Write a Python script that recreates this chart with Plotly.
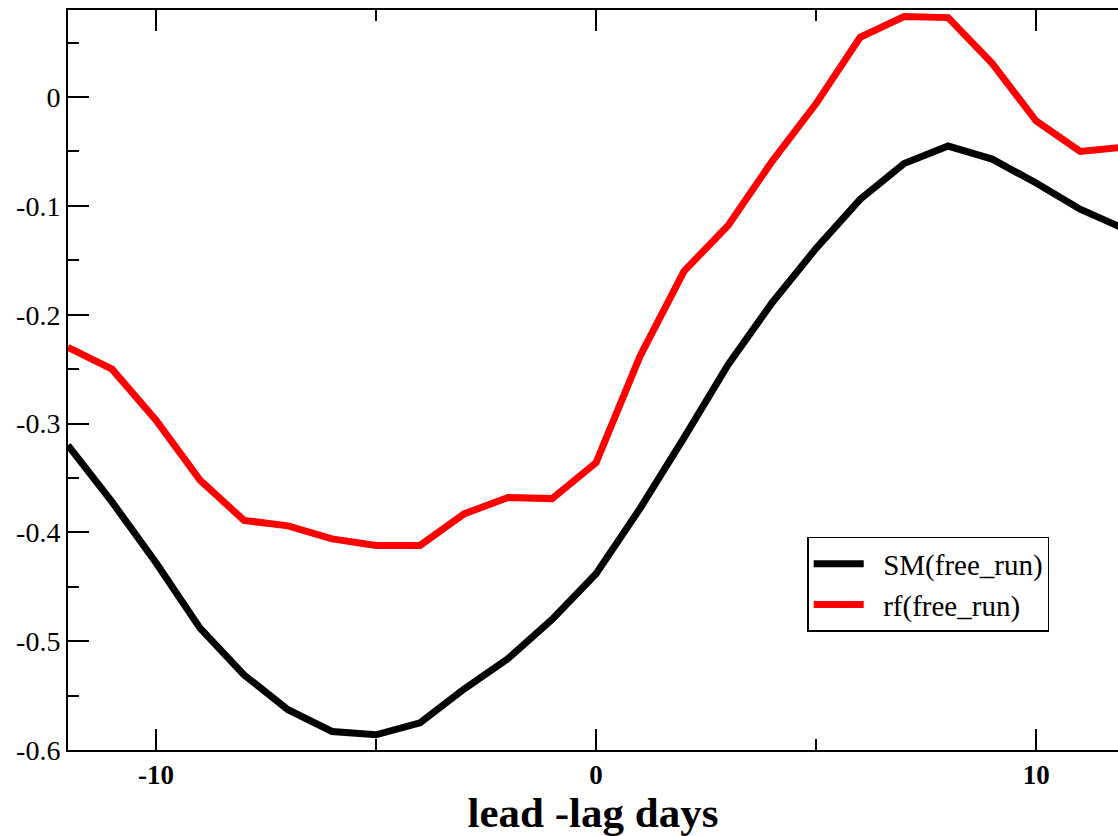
import plotly.graph_objects as go

lag_days = [-12, -11, -10, -9, -8, -7, -6, -5, -4, -3, -2, -1, 0, 1, 2, 3, 4, 5, 6, 7, 8, 9, 10, 11, 12]
sm_free_run = [-0.320, -0.372, -0.428, -0.488, -0.531, -0.563, -0.583, -0.586, -0.575, -0.544,
               -0.516, -0.480, -0.438, -0.378, -0.313, -0.246, -0.189, -0.139, -0.094, -0.061,
               -0.045, -0.057, -0.079, -0.103, -0.121]
rf_free_run = [-0.230, -0.250, -0.297, -0.352, -0.389, -0.394, -0.406, -0.412, -0.412, -0.383,
               -0.368, -0.369, -0.336, -0.238, -0.160, -0.118, -0.059, -0.006, 0.055, 0.074,
               0.073, 0.031, -0.022, -0.050, -0.046]
series_names = ["SM(free_run)", "rf(free_run)"]

x_ticks = [-10, 0, 10]
y_ticks = [-0.6, -0.5, -0.4, -0.3, -0.2, -0.1, 0]
y_tick_labels = ["-0.6", "-0.5", "-0.4", "-0.3", "-0.2", "-0.1", "0"]

serif = "'Liberation Serif', 'Times New Roman', Times, serif"
pad = "\u00a0\u00a0"

fig = go.Figure()
fig.add_trace(go.Scatter(x=lag_days, y=sm_free_run, mode="lines", name=pad + series_names[0],
                         line=dict(color="black", width=7)))
fig.add_trace(go.Scatter(x=lag_days, y=rf_free_run, mode="lines", name=pad + series_names[1],
                         line=dict(color="red", width=7)))

fig.update_layout(
    width=1118, height=836,
    margin=dict(l=68, r=0, t=10, b=86),
    plot_bgcolor="white", paper_bgcolor="white",
    font=dict(family=serif, color="black"),
    showlegend=True,
    legend=dict(x=0.704, y=0.288, xanchor="left", yanchor="top",
                bordercolor="black", borderwidth=1.5, bgcolor="white",
                font=dict(family=serif, size=29, color="black"),
                itemwidth=50, tracegroupgap=0),
    xaxis=dict(range=[-12, 11.86], tickvals=x_ticks, ticktext=[str(v) for v in x_ticks],
               ticks="inside", ticklen=21, tickwidth=1.5, tickcolor="black",
               minor=dict(dtick=5, tick0=0, ticks="inside", ticklen=11, tickwidth=1.5, tickcolor="black"),
               showline=True, linecolor="black", linewidth=2, mirror="ticks",
               showgrid=False, zeroline=False,
               tickfont=dict(family=serif, size=27, weight="bold", color="black"),
               ticklabelstandoff=0,
               title=dict(text="lead -lag days", font=dict(family=serif, size=43, weight="bold", color="black"),
                          standoff=2)),
    yaxis=dict(range=[-0.6, 0.08], tickvals=y_ticks, ticktext=y_tick_labels,
               ticks="inside", ticklen=21, tickwidth=1.5, tickcolor="black",
               minor=dict(dtick=0.05, tick0=0, ticks="inside", ticklen=11, tickwidth=1.5, tickcolor="black"),
               showline=True, linecolor="black", linewidth=2, mirror=False,
               showgrid=False, zeroline=False,
               tickfont=dict(family=serif, size=28, color="black")),
    yaxis2=dict(range=[-0.6, 0.08], overlaying="y", side="right", anchor="x",
                tickvals=y_ticks, ticks="inside", ticklen=15, tickwidth=1.5, tickcolor="black",
                minor=dict(dtick=0.05, tick0=0, ticks="inside", ticklen=5, tickwidth=1.5, tickcolor="black"),
                showticklabels=False, showline=False, showgrid=False, zeroline=False),
)

fig.write_html("out.html")
